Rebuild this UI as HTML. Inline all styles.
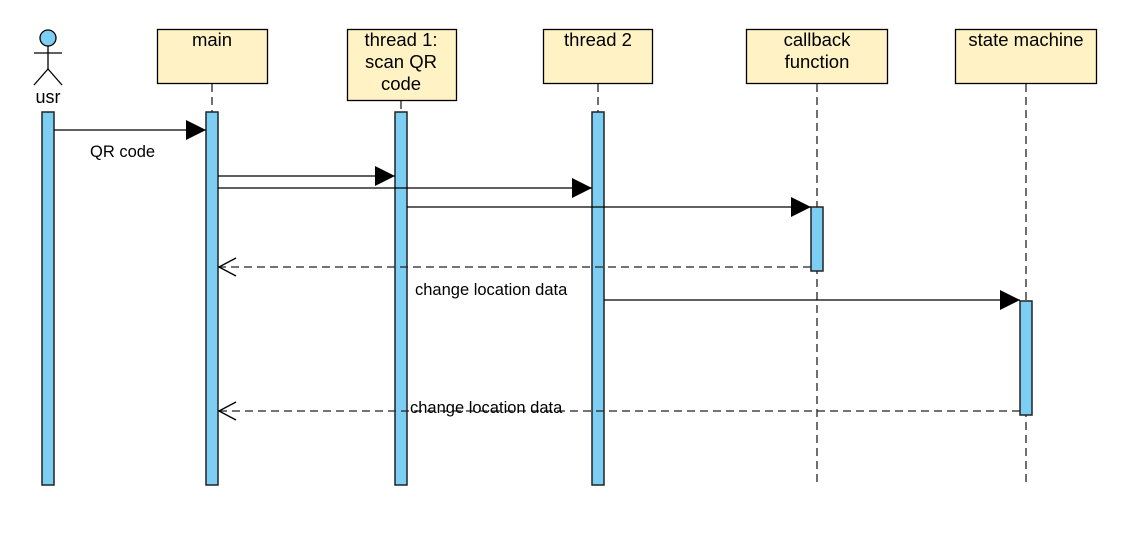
<!DOCTYPE html>
<html><head><meta charset="utf-8"><style>
html,body{margin:0;padding:0;background:#fff;}
svg{display:block;font-family:"Liberation Sans",Arial,sans-serif;}
</style></head><body>
<svg width="1131" height="545" viewBox="0 0 1131 545" xmlns="http://www.w3.org/2000/svg">
<defs>
<marker id="f" markerWidth="20" markerHeight="20" refX="20" refY="10" orient="auto" markerUnits="userSpaceOnUse"><path d="M0,0 L20,10 L0,20 Z" fill="#000"/></marker>
<marker id="o" markerWidth="20" markerHeight="20" refX="19" refY="10" orient="auto" markerUnits="userSpaceOnUse"><path d="M2,1 L19,10 L2,19" fill="none" stroke="#000" stroke-width="1.3"/></marker>
</defs>
<!-- actor -->
<circle cx="48" cy="38" r="8" fill="#7ccff3" stroke="#000" stroke-width="1.3"/>
<line x1="48" y1="46" x2="48" y2="69" stroke="#000" stroke-width="1.3"/>
<line x1="34" y1="53" x2="62" y2="53" stroke="#000" stroke-width="1.3"/>
<path d="M34,85 L48,69 L62,85" fill="none" stroke="#000" stroke-width="1.3"/>
<text x="48" y="103" font-size="18" text-anchor="middle">usr</text>
<!-- boxes -->
<g fill="#fff2c4" stroke="#000" stroke-width="1.3">
<rect x="157.5" y="29.5" width="110" height="54"/>
<rect x="347.5" y="29.5" width="109" height="71"/>
<rect x="543.5" y="29.5" width="109" height="54"/>
<rect x="746.5" y="29.5" width="141" height="54"/>
<rect x="955.5" y="29.5" width="141" height="54"/>
</g>
<g font-size="18.5" text-anchor="middle" fill="#000">
<text x="212" y="46">main</text>
<text x="401" y="46">thread 1:</text>
<text x="401" y="68">scan QR</text>
<text x="401" y="90">code</text>
<text x="598" y="46">thread 2</text>
<text x="817" y="46">callback</text>
<text x="817" y="68">function</text>
<text x="1026" y="46">state machine</text>
</g>
<!-- lifelines -->
<g stroke="#222" stroke-width="1.3" stroke-dasharray="8,5">
<line x1="212" y1="84" x2="212" y2="112"/>
<line x1="401" y1="101" x2="401" y2="112"/>
<line x1="598" y1="84" x2="598" y2="112"/>
<line x1="817" y1="84" x2="817" y2="486"/>
<line x1="1026" y1="84" x2="1026" y2="486"/>
</g>
<!-- bars -->
<g fill="#7ccff3" stroke="#222" stroke-width="1.5">
<rect x="42" y="112" width="12" height="373"/>
<rect x="206" y="112" width="12" height="373"/>
<rect x="395" y="112" width="12" height="373"/>
<rect x="592" y="112" width="12" height="373"/>
<rect x="811" y="207" width="12" height="64"/>
<rect x="1020" y="301" width="12" height="114"/>
</g>
<!-- arrows -->
<g stroke="#000" stroke-width="1.3" fill="none">
<line x1="54" y1="130" x2="206" y2="130" marker-end="url(#f)"/>
<line x1="218" y1="176" x2="395" y2="176" marker-end="url(#f)"/>
<line x1="218" y1="188" x2="592" y2="188" marker-end="url(#f)"/>
<line x1="407" y1="207" x2="811" y2="207" marker-end="url(#f)"/>
<line x1="604" y1="300" x2="1020" y2="300" marker-end="url(#f)"/>
<line x1="811" y1="267" x2="219" y2="267" stroke="#222" stroke-dasharray="8,5" marker-end="url(#o)"/>
<line x1="1020" y1="411" x2="219" y2="411" stroke="#222" stroke-dasharray="8,5" marker-end="url(#o)"/>
</g>
<g font-size="16.5" fill="#000">
<text x="90" y="157">QR code</text>
<text x="415" y="295">change location data</text>
<text x="410" y="413">change location data</text>
</g>
</svg>
</body></html>
